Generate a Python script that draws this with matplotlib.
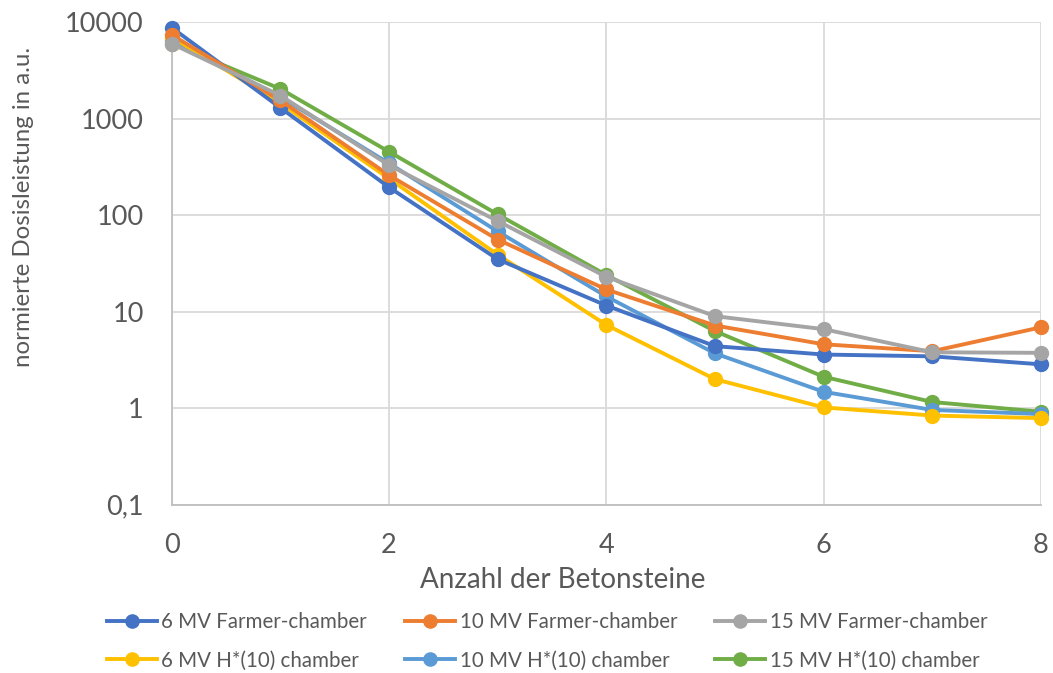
import matplotlib
matplotlib.use("Agg")
import matplotlib.pyplot as plt
from matplotlib.ticker import FixedLocator, FixedFormatter, NullLocator

plt.rcParams['font.family'] = ['Lato', 'DejaVu Sans']

x = [0, 1, 2, 3, 4, 5, 6, 7, 8]
farmer_6 = [8800, 1300, 195, 35, 11.6, 4.4, 3.6, 3.45, 2.85]
farmer_10 = [7400, 1550, 260, 56, 17, 7.2, 4.6, 3.9, 6.9]
farmer_15 = [6000, 1740, 330, 87, 23, 9.0, 6.6, 3.8, 3.75]
hstar_6 = [7000, 1450, 240, 39, 7.3, 2.0, 1.02, 0.84, 0.79]
hstar_10 = [6500, 1680, 345, 68, 14.4, 3.7, 1.48, 0.96, 0.87]
hstar_15 = [6000, 2040, 455, 102, 24, 6.3, 2.12, 1.16, 0.92]

labels = ["6 MV Farmer-chamber", "10 MV Farmer-chamber", "15 MV Farmer-chamber",
          "6 MV H*(10) chamber", "10 MV H*(10) chamber", "15 MV H*(10) chamber"]
colors = ["#4472C4", "#ED7D31", "#A5A5A5", "#FFC000", "#5B9BD5", "#70AD47"]
series = [farmer_6, farmer_10, farmer_15, hstar_6, hstar_10, hstar_15]

fig = plt.figure(figsize=(10.53, 6.73), dpi=100)
ax = fig.add_axes([0.163, 0.250, 0.8256, 0.717])

handles = {}
for i in [5, 4, 3, 0, 1, 2]:
    h, = ax.plot(x, series[i], color=colors[i], lw=2.8, marker='o', ms=10,
                 label=labels[i], zorder=3, clip_on=False)
    handles[i] = h

ax.set_yscale('log')
ax.set_ylim(0.1, 10000)
ax.set_xlim(0, 8)
yt = [0.1, 1, 10, 100, 1000, 10000]
ax.yaxis.set_major_locator(FixedLocator(yt))
ax.yaxis.set_major_formatter(FixedFormatter(["0,1", "1", "10", "100", "1000", "10000"]))
ax.yaxis.set_minor_locator(NullLocator())
ax.set_xticks([0, 2, 4, 6, 8])
ax.xaxis.set_minor_locator(NullLocator())

ax.grid(True, which='major', color='#d9d9d9', lw=1.3)
ax.set_axisbelow(True)
for s in ['top', 'right']:
    ax.spines[s].set_visible(False)
ax.spines['left'].set_color('#bfbfbf')
ax.spines['bottom'].set_color('#bfbfbf')
ax.spines['left'].set_linewidth(1.3)
ax.spines['bottom'].set_linewidth(1.3)
ax.tick_params(axis='both', which='both', length=0, labelsize=19.5, colors='#595959')
ax.tick_params(axis='y', pad=20)
ax.tick_params(axis='x', pad=20)

ax.set_xlabel("Anzahl der Betonsteine", fontsize=20, color='#595959', va='top')
ax.xaxis.set_label_coords(0.45, -0.128)
ax.set_ylabel("normierte Dosisleistung in a.u.", fontsize=17.3, color='#595959')
ax.yaxis.set_label_coords(-0.158, 0.617)

leg_handles = [handles[i] for i in [0, 3, 1, 4, 2, 5]]
leg_labels = [labels[i] for i in [0, 3, 1, 4, 2, 5]]
fig.legend(leg_handles, leg_labels, loc='center left', bbox_to_anchor=(107 / 1053, 0.047),
           ncol=3, frameon=False, fontsize=14.8, labelcolor='#595959',
           handlelength=2.45, handletextpad=0.2, columnspacing=1.85,
           labelspacing=0.9, markerscale=0.95, borderpad=0, borderaxespad=0)

fig.savefig("out.png", dpi=100)
